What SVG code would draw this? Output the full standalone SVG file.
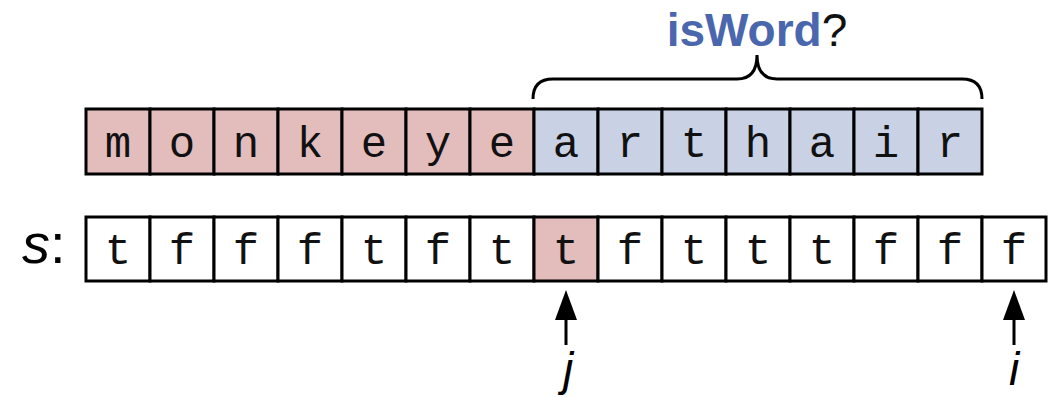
<svg xmlns="http://www.w3.org/2000/svg" width="1053" height="397" viewBox="0 0 1053 397">
<style>
.cell{stroke:#000;stroke-width:3}
.pk{fill:#E3BCBC}
.bl{fill:#C9D1E5}
.wh{fill:#fff}
.ch{font-family:"Liberation Mono",monospace;font-size:44px;text-anchor:middle;fill:#111}
.lab{font-family:"Liberation Sans",Arial,sans-serif;font-style:italic;fill:#000}
.conn{stroke:#000;stroke-width:3;fill:none}
</style>
<rect width="1053" height="397" fill="#fff"/>
<g id="title">
<text x="757" y="46" text-anchor="middle" font-family="Liberation Sans,Arial,sans-serif" font-size="46"><tspan font-weight="bold" fill="#4A67AE">isWord</tspan><tspan fill="#111">?</tspan></text>
</g>
<g id="brace">
<path class="conn" d="M533,99 Q533,79 553,79 L737,79 Q757,79 757,55 Q757,79 777,79 L962,79 Q982,79 982,99"/>
</g>
<g id="word">
<g id="w0"><rect class="cell pk" x="86" y="109" width="64" height="65"/><text class="ch" x="118" y="157">m</text></g>
<g id="w1"><rect class="cell pk" x="150" y="109" width="64" height="65"/><text class="ch" x="182" y="157">o</text></g>
<g id="w2"><rect class="cell pk" x="214" y="109" width="64" height="65"/><text class="ch" x="246" y="157">n</text></g>
<g id="w3"><rect class="cell pk" x="278" y="109" width="64" height="65"/><text class="ch" x="310" y="157">k</text></g>
<g id="w4"><rect class="cell pk" x="342" y="109" width="64" height="65"/><text class="ch" x="374" y="157">e</text></g>
<g id="w5"><rect class="cell pk" x="406" y="109" width="64" height="65"/><text class="ch" x="438" y="157">y</text></g>
<g id="w6"><rect class="cell pk" x="470" y="109" width="64" height="65"/><text class="ch" x="502" y="157">e</text></g>
<g id="w7"><rect class="cell bl" x="534" y="109" width="64" height="65"/><text class="ch" x="566" y="157">a</text></g>
<g id="w8"><rect class="cell bl" x="598" y="109" width="64" height="65"/><text class="ch" x="630" y="157">r</text></g>
<g id="w9"><rect class="cell bl" x="662" y="109" width="64" height="65"/><text class="ch" x="694" y="157">t</text></g>
<g id="w10"><rect class="cell bl" x="726" y="109" width="64" height="65"/><text class="ch" x="758" y="157">h</text></g>
<g id="w11"><rect class="cell bl" x="790" y="109" width="64" height="65"/><text class="ch" x="822" y="157">a</text></g>
<g id="w12"><rect class="cell bl" x="854" y="109" width="64" height="65"/><text class="ch" x="886" y="157">i</text></g>
<g id="w13"><rect class="cell bl" x="918" y="109" width="64" height="65"/><text class="ch" x="950" y="157">r</text></g>
</g>
<g id="slabel"><text class="lab" x="22" y="263" font-size="56">s<tspan font-style="normal">:</tspan></text></g>
<g id="s">
<g id="s0"><rect class="cell wh" x="86" y="217" width="64" height="64"/><text class="ch" x="118" y="264">t</text></g>
<g id="s1"><rect class="cell wh" x="150" y="217" width="64" height="64"/><text class="ch" x="182" y="264">f</text></g>
<g id="s2"><rect class="cell wh" x="214" y="217" width="64" height="64"/><text class="ch" x="246" y="264">f</text></g>
<g id="s3"><rect class="cell wh" x="278" y="217" width="64" height="64"/><text class="ch" x="310" y="264">f</text></g>
<g id="s4"><rect class="cell wh" x="342" y="217" width="64" height="64"/><text class="ch" x="374" y="264">t</text></g>
<g id="s5"><rect class="cell wh" x="406" y="217" width="64" height="64"/><text class="ch" x="438" y="264">f</text></g>
<g id="s6"><rect class="cell wh" x="470" y="217" width="64" height="64"/><text class="ch" x="502" y="264">t</text></g>
<g id="s7"><rect class="cell pk" x="534" y="217" width="64" height="64"/><text class="ch" x="566" y="264">t</text></g>
<g id="s8"><rect class="cell wh" x="598" y="217" width="64" height="64"/><text class="ch" x="630" y="264">f</text></g>
<g id="s9"><rect class="cell wh" x="662" y="217" width="64" height="64"/><text class="ch" x="694" y="264">t</text></g>
<g id="s10"><rect class="cell wh" x="726" y="217" width="64" height="64"/><text class="ch" x="758" y="264">t</text></g>
<g id="s11"><rect class="cell wh" x="790" y="217" width="64" height="64"/><text class="ch" x="822" y="264">t</text></g>
<g id="s12"><rect class="cell wh" x="854" y="217" width="64" height="64"/><text class="ch" x="886" y="264">f</text></g>
<g id="s13"><rect class="cell wh" x="918" y="217" width="64" height="64"/><text class="ch" x="950" y="264">f</text></g>
<g id="s14"><rect class="cell wh" x="982" y="217" width="64" height="64"/><text class="ch" x="1014" y="264">f</text></g>
</g>
<g id="connectors">
<line class="conn" x1="566" y1="345" x2="566" y2="318"/>
<path d="M566,290 L577,320 L555,320 Z" fill="#000"/>
<line class="conn" x1="1014" y1="345" x2="1014" y2="318"/>
<path d="M1014,290 L1025,320 L1003,320 Z" fill="#000"/>
</g>
<g id="jlabel"><text class="lab" x="568" y="385" font-size="46" text-anchor="middle">j</text></g>
<g id="ilabel"><text class="lab" x="1014" y="385" font-size="46" text-anchor="middle">i</text></g>
</svg>
